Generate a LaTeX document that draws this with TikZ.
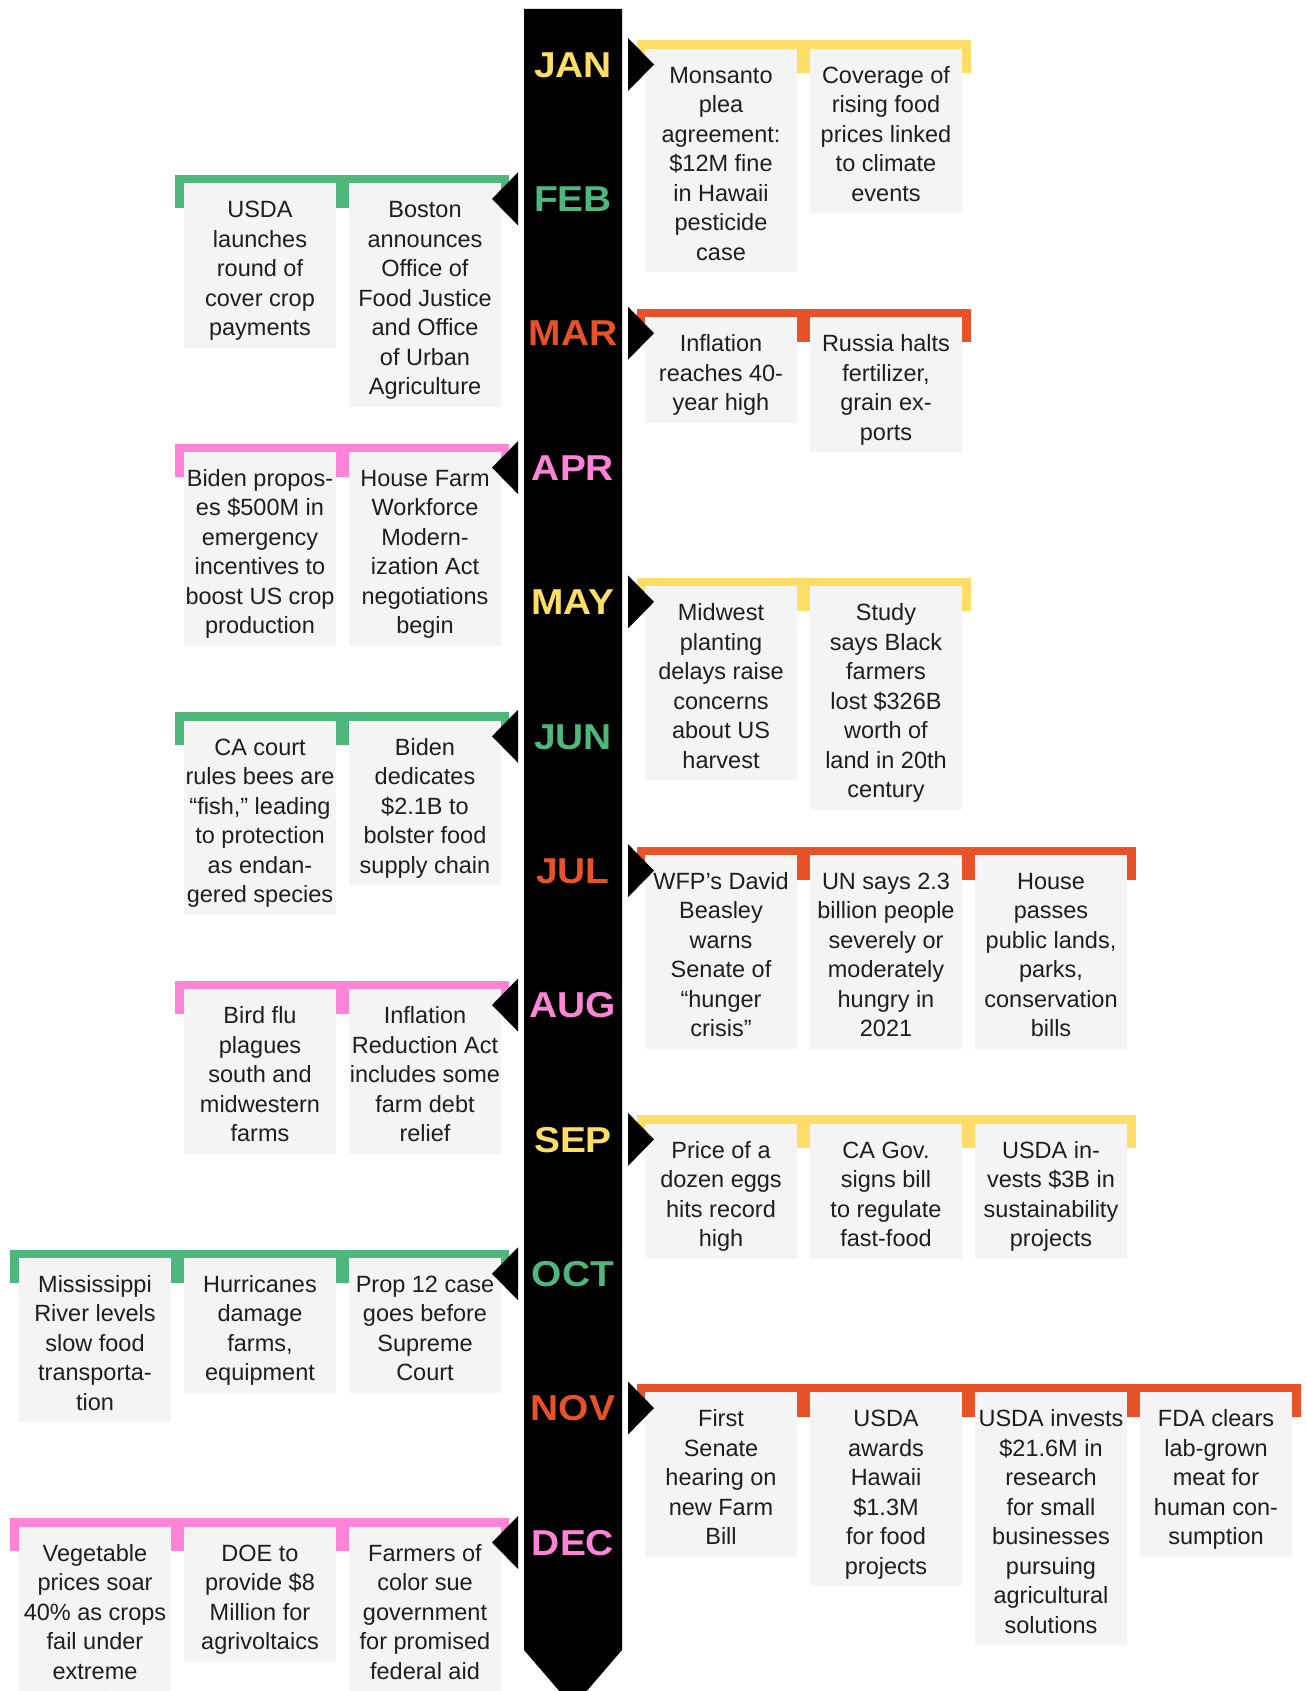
\documentclass[tikz,border=0pt]{standalone}
\usepackage{fontspec}
\setmainfont{Liberation Sans}
\newfontfamily\monthfont[FakeStretch=1.08]{Liberation Sans}
\usetikzlibrary{positioning}

\definecolor{janyellow}{RGB}{255,221,102}
\definecolor{febgreen}{RGB}{79,182,124}
\definecolor{marorange}{RGB}{232,82,41}
\definecolor{aprpink}{RGB}{255,132,216}
\definecolor{boxgray}{RGB}{244,244,244}
\definecolor{textdark}{RGB}{30,30,30}

% Struts that fix the room above the first line and below the last one
\newcommand{\firstline}{\rule{0pt}{27.5pt}}
\newcommand{\lastline}{\rule[-5pt]{0pt}{5pt}}

\begin{document}
\begin{tikzpicture}[
    x=1pt, y=-1pt,
    % Styles for the month labels and the event boxes
    monthlabel/.style={font=\monthfont\bfseries\fontsize{36}{36}\selectfont, inner sep=0pt, anchor=base},
    event/.style={
        fill=boxgray,
        text=textdark,
        anchor=north,
        align=center,
        inner xsep=0pt,
        inner ysep=7pt,
        minimum width=152pt,
        font=\fontsize{23.5}{29.5}\selectfont
    },
    tip/.style={fill=black}
]

% Fix the page to the size of the reference
\useasboundingbox (0,0) rectangle (1306,1691);

% The black spine with its pointed end
\fill (524,9) -- (622,9) -- (622,1650) -- (573,1707) -- (524,1650) -- cycle;

% One month: bracket, label, boxes and the black tip
% #1 index, #2 name, #3 label, #4 colour, #5 side (1 = right, -1 = left), #6 number of boxes, #7 texts
\newcommand{\monthrow}[7]{
    \pgfmathsetmacro{\yc}{64.5+#1*134.36}
    \pgfmathsetmacro{\xa}{573+(#5)*64}
    \pgfmathsetmacro{\xb}{573+(#5)*(148+165*(#6-1)+85)}
    % Coloured bracket behind the boxes
    \fill[#4] (\xa,\yc-24) rectangle (\xb,\yc+9);
    \node[monthlabel, text=#4] (#2) at (573,\yc+12.7) {#3};
    % Event boxes, outward from the spine
    \foreach \txt [count=\k] in {#7} {
        \pgfmathsetmacro{\xc}{573+(#5)*(148+165*(\k-1))}
        \node[event] (#2-\k) at (\xc,\yc-16) {\firstline\txt\lastline};
    }
    % Black tip pointing to the boxes
    \fill[tip] ({573+(#5)*55},\yc-26.5) -- ({573+(#5)*81},\yc) -- ({573+(#5)*55},\yc+26.5) -- cycle;
}

\monthrow{0}{jan}{JAN}{janyellow}{1}{2}{
    {Monsanto\\plea\\agreement:\\\$12M fine\\in Hawaii\\pesticide\\case},
    {Coverage of\\rising food\\prices linked\\to climate\\events}}
\monthrow{1}{feb}{FEB}{febgreen}{-1}{2}{
    {Boston\\announces\\Office of\\Food Justice\\and Office\\of Urban\\Agriculture},
    {USDA\\launches\\round of\\cover crop\\payments}}
\monthrow{2}{mar}{MAR}{marorange}{1}{2}{
    {Inflation\\reaches 40-\\year high},
    {Russia halts\\fertilizer,\\grain ex-\\ports}}
\monthrow{3}{apr}{APR}{aprpink}{-1}{2}{
    {House Farm\\Workforce\\Modern-\\ization Act\\negotiations\\begin},
    {Biden propos-\\es \$500M in\\emergency\\incentives to\\boost US crop\\production}}
\monthrow{4}{may}{MAY}{janyellow}{1}{2}{
    {Midwest\\planting\\delays raise\\concerns\\about US\\harvest},
    {Study\\says Black\\farmers\\lost \$326B\\worth of\\land in 20th\\century}}
\monthrow{5}{jun}{JUN}{febgreen}{-1}{2}{
    {Biden\\dedicates\\\$2.1B to\\bolster food\\supply chain},
    {CA court\\rules bees are\\“fish,” leading\\to protection\\as endan-\\gered species}}
\monthrow{6}{jul}{JUL}{marorange}{1}{3}{
    {WFP’s David\\Beasley\\warns\\Senate of\\“hunger\\crisis”},
    {UN says 2.3\\billion people\\severely or\\moderately\\hungry in\\2021},
    {House\\passes\\public lands,\\parks,\\conservation\\bills}}
\monthrow{7}{aug}{AUG}{aprpink}{-1}{2}{
    {Inflation\\Reduction Act\\includes some\\farm debt\\relief},
    {Bird flu\\plagues\\south and\\midwestern\\farms}}
\monthrow{8}{sep}{SEP}{janyellow}{1}{3}{
    {Price of a\\dozen eggs\\hits record\\high},
    {CA Gov.\\signs bill\\to regulate\\fast-food},
    {USDA in-\\vests \$3B in\\sustainability\\projects}}
\monthrow{9}{oct}{OCT}{febgreen}{-1}{3}{
    {Prop 12 case\\goes before\\Supreme\\Court},
    {Hurricanes\\damage\\farms,\\equipment},
    {Mississippi\\River levels\\slow food\\transporta-\\tion}}
\monthrow{10}{nov}{NOV}{marorange}{1}{4}{
    {First\\Senate\\hearing on\\new Farm\\Bill},
    {USDA\\awards\\Hawaii\\\$1.3M\\for food\\projects},
    {USDA invests\\\$21.6M in\\research\\for small\\businesses\\pursuing\\agricultural\\solutions},
    {FDA clears\\lab-grown\\meat for\\human con-\\sumption}}
\monthrow{11}{dec}{DEC}{aprpink}{-1}{3}{
    {Farmers of\\color sue\\government\\for promised\\federal aid},
    {DOE to\\provide \$8\\Million for\\agrivoltaics},
    {Vegetable\\prices soar\\40\% as crops\\fail under\\extreme\\weather}}

\end{tikzpicture}
\end{document}
